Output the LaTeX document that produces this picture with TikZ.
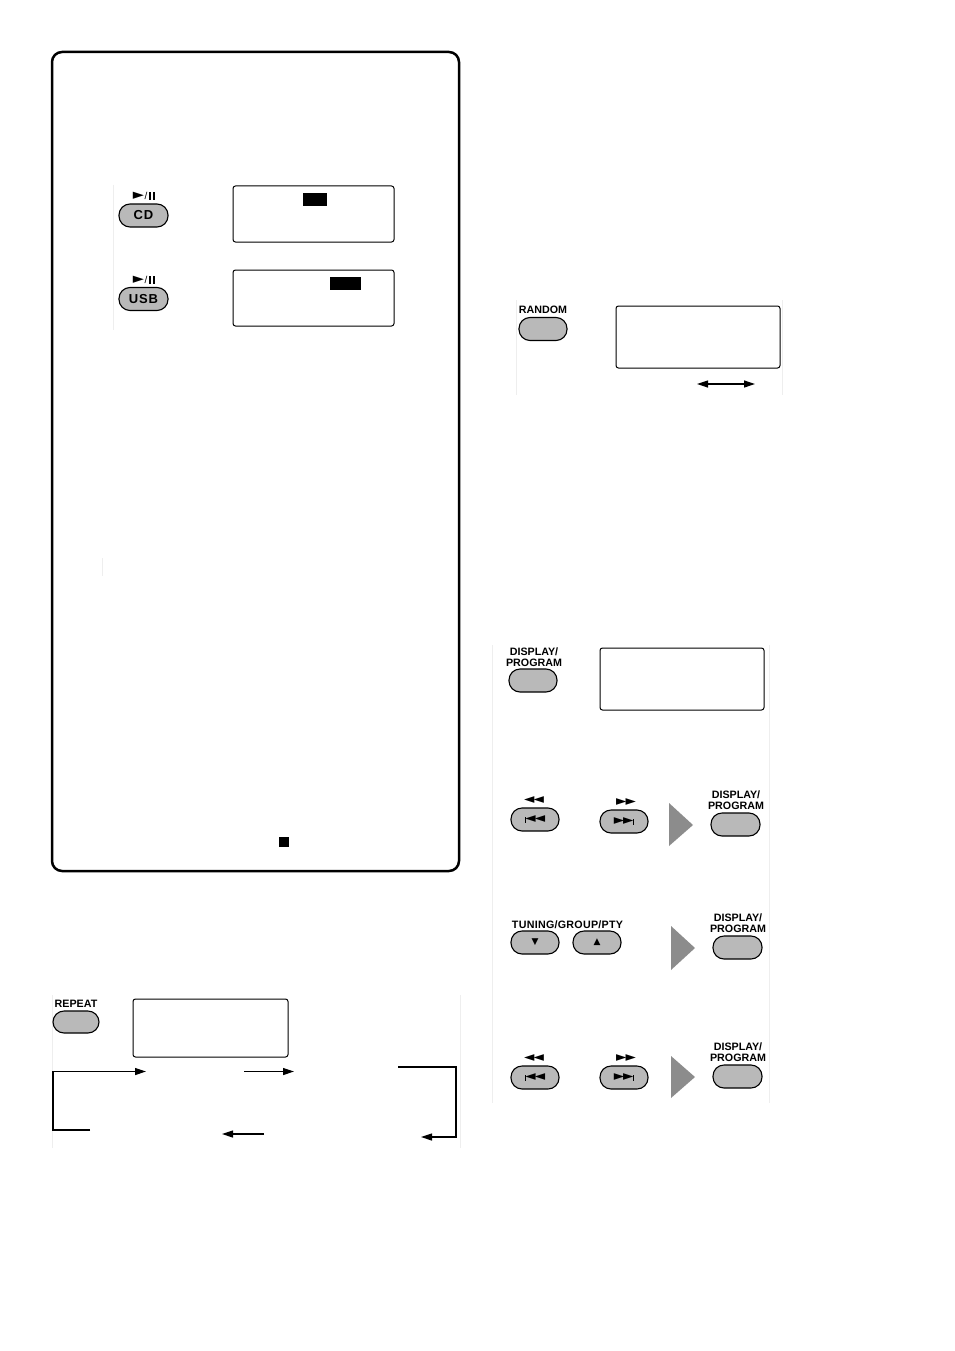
\documentclass[tikz,border=0pt]{standalone}
\usepackage{fontspec}
\usetikzlibrary{arrows.meta}
\newfontfamily\lblfont{Liberation Sans}
\newfontfamily\symfont{DejaVu Sans}
\definecolor{btnfill}{RGB}{185,185,185}
\definecolor{trifill}{RGB}{140,140,140}
\definecolor{faint}{RGB}{238,238,238}
\newcommand{\pausebars}{\rule{2.6pt}{7.2pt}\kern1.5pt\rule{2.6pt}{7.2pt}}
\newcommand{\skipbar}{\rule{1pt}{6pt}}
\newcommand{\playpause}{{\symfont\fontsize{14.5}{14.5}\selectfont ►}\kern0.8pt{\lblfont\fontsize{10}{10}\selectfont/}\kern1pt\pausebars}
\tikzset{
  btn/.style={draw, fill=btnfill, line width=1.1pt, minimum width=48pt, minimum height=23pt, rounded corners=11pt, inner sep=0pt},
  disp/.style={draw, line width=1pt, rounded corners=2.5pt, inner sep=0pt},
  blk/.style={fill=black, inner sep=0pt},
  lbl/.style={font=\lblfont\bfseries\fontsize{10.7}{11}\selectfont, align=center, inner sep=0pt},
  sym/.style={font=\symfont\fontsize{13.5}{13.5}\selectfont, inner sep=0pt},
  btntxt/.style={font=\lblfont\bfseries\fontsize{13}{13}\selectfont},
  gtri/.style={fill=trifill, draw=none},
  flow/.style={line width=1.2pt, -{Triangle[length=11pt,width=7pt]}},
  faintline/.style={draw=faint, line width=0.8pt}
}
\begin{document}
\begin{tikzpicture}[x=1pt,y=-1pt]
\useasboundingbox (0,0) rectangle (954,1351);
\fill[white] (0,0) rectangle (954,1351);
% faint panel edges
\draw[faintline] (113,185) -- (113,330);
\draw[faintline] (102,558) -- (102,576);
\draw[faintline] (516,300) -- (516,395);
\draw[faintline] (782,300) -- (782,395);
\draw[faintline] (492,645) -- (492,1103);
\draw[faintline] (769,645) -- (769,1103);
\draw[faintline] (52,995) -- (52,1148);
\draw[faintline] (460,995) -- (460,1148);
% big box
\node[draw, line width=2.5pt, rounded corners=10pt, minimum width=407pt, minimum height=819pt, inner sep=0pt] (bigbox) at (255.5,461.5) {};
% CD
\node[inner sep=0pt] (cdsym) at (144,196) {\playpause};
\node[btn, minimum width=49pt, btntxt] (cdbtn) at (143.5,215.5) {\addfontfeature{LetterSpace=6}CD};
\node[disp, minimum width=161pt, minimum height=56pt] (cddisp) at (313.5,214) {};
\node[blk, minimum width=24pt, minimum height=13pt] (cdblk) at (315,199.5) {};
% USB
\node[inner sep=0pt] (usbsym) at (144,280) {\playpause};
\node[btn, minimum width=49pt, btntxt] (usbbtn) at (143.5,299) {\addfontfeature{LetterSpace=6}USB};
\node[disp, minimum width=161pt, minimum height=56pt] (usbdisp) at (313.5,298) {};
\node[blk, minimum width=31pt, minimum height=13pt] (usbblk) at (345.5,283.5) {};
% stop square
\node[blk, minimum width=10pt, minimum height=10pt] (stopsq) at (284,842) {};
% RANDOM
\node[lbl] (rndlbl) at (543,309.5) {RANDOM};
\node[btn] (rndbtn) at (543,329) {};
\node[disp, minimum width=164pt, minimum height=62pt] (rnddisp) at (698,337) {};
\coordinate (rndA) at (697,384);
\coordinate (rndB) at (755,384);
\draw[line width=1.2pt, {Triangle[length=11pt,width=7pt]}-{Triangle[length=11pt,width=7pt]}] (rndA) -- (rndB);
% DISPLAY/PROGRAM top
\node[lbl] (dplbl0) at (534,657) {DISPLAY/\\PROGRAM};
\node[btn] (dpbtn0) at (533,680.5) {};
\node[disp, minimum width=164pt, minimum height=62pt] (dpdisp) at (682,679) {};
% Row 2
\node[sym] (rew1sym) at (534,800) {◄\kern-1pt◄};
\node[btn, sym] (rew1) at (535,819.5) {\skipbar\kern-0.3pt◄\kern-1pt◄};
\node[sym] (ff1sym) at (626,802) {►\kern-1pt►};
\node[btn, sym] (ff1) at (624,821.5) {►\kern-1pt►\kern-0.3pt\skipbar};
\fill[gtri] (669,803) -- (669,846) -- (693,825) -- cycle;
\node[lbl] (dplbl1) at (736,800.5) {DISPLAY/\\PROGRAM};
\node[btn, minimum width=49pt] (dpbtn1) at (735.5,824.5) {};
% Row 3
\node[lbl] (tunlbl) at (567.5,924.5) {\addfontfeature{LetterSpace=2.5}TUNING/GROUP/PTY};
\node[btn] (tundn) at (535,942.5) {\symfont\fontsize{9}{9}\selectfont▼};
\node[btn] (tunup) at (597,942.5) {\symfont\fontsize{9}{9}\selectfont▲};
\fill[gtri] (671,926) -- (671,970) -- (695,948) -- cycle;
\node[lbl] (dplbl2) at (738,923.5) {DISPLAY/\\PROGRAM};
\node[btn, minimum width=49pt] (dpbtn2) at (737.5,947.5) {};
% Row 4
\node[sym] (rew2sym) at (534,1058) {◄\kern-1pt◄};
\node[btn, sym] (rew2) at (535,1077.5) {\skipbar\kern-0.3pt◄\kern-1pt◄};
\node[sym] (ff2sym) at (626,1058) {►\kern-1pt►};
\node[btn, sym] (ff2) at (624,1077.5) {►\kern-1pt►\kern-0.3pt\skipbar};
\fill[gtri] (671,1056) -- (671,1098) -- (695,1077) -- cycle;
\node[lbl] (dplbl3) at (738,1052.5) {DISPLAY/\\PROGRAM};
\node[btn, minimum width=49pt] (dpbtn3) at (737.5,1076.5) {};
% REPEAT
\node[lbl] (replbl) at (76,1004) {REPEAT};
\node[btn, minimum width=46pt, minimum height=22pt] (repbtn) at (76,1022) {};
\node[disp, minimum width=155pt, minimum height=58pt] (repdisp) at (210.5,1028) {};
\coordinate (rA) at (90,1130);
\coordinate (rB) at (53,1130);
\coordinate (rC) at (53,1071.5);
\coordinate (rD) at (146,1071.5);
\draw[flow] (rA) -- (rB) -- (rC) -- (rD);
\coordinate (rE) at (244,1071.5);
\coordinate (rF) at (294,1071.5);
\draw[flow] (rE) -- (rF);
\coordinate (rG) at (398,1067);
\coordinate (rH) at (456,1067);
\coordinate (rI) at (456,1137);
\coordinate (rJ) at (421,1137);
\draw[flow] (rG) -- (rH) -- (rI) -- (rJ);
\coordinate (rK) at (264,1134);
\coordinate (rL) at (222,1134);
\draw[flow] (rK) -- (rL);
\end{tikzpicture}
\end{document}
